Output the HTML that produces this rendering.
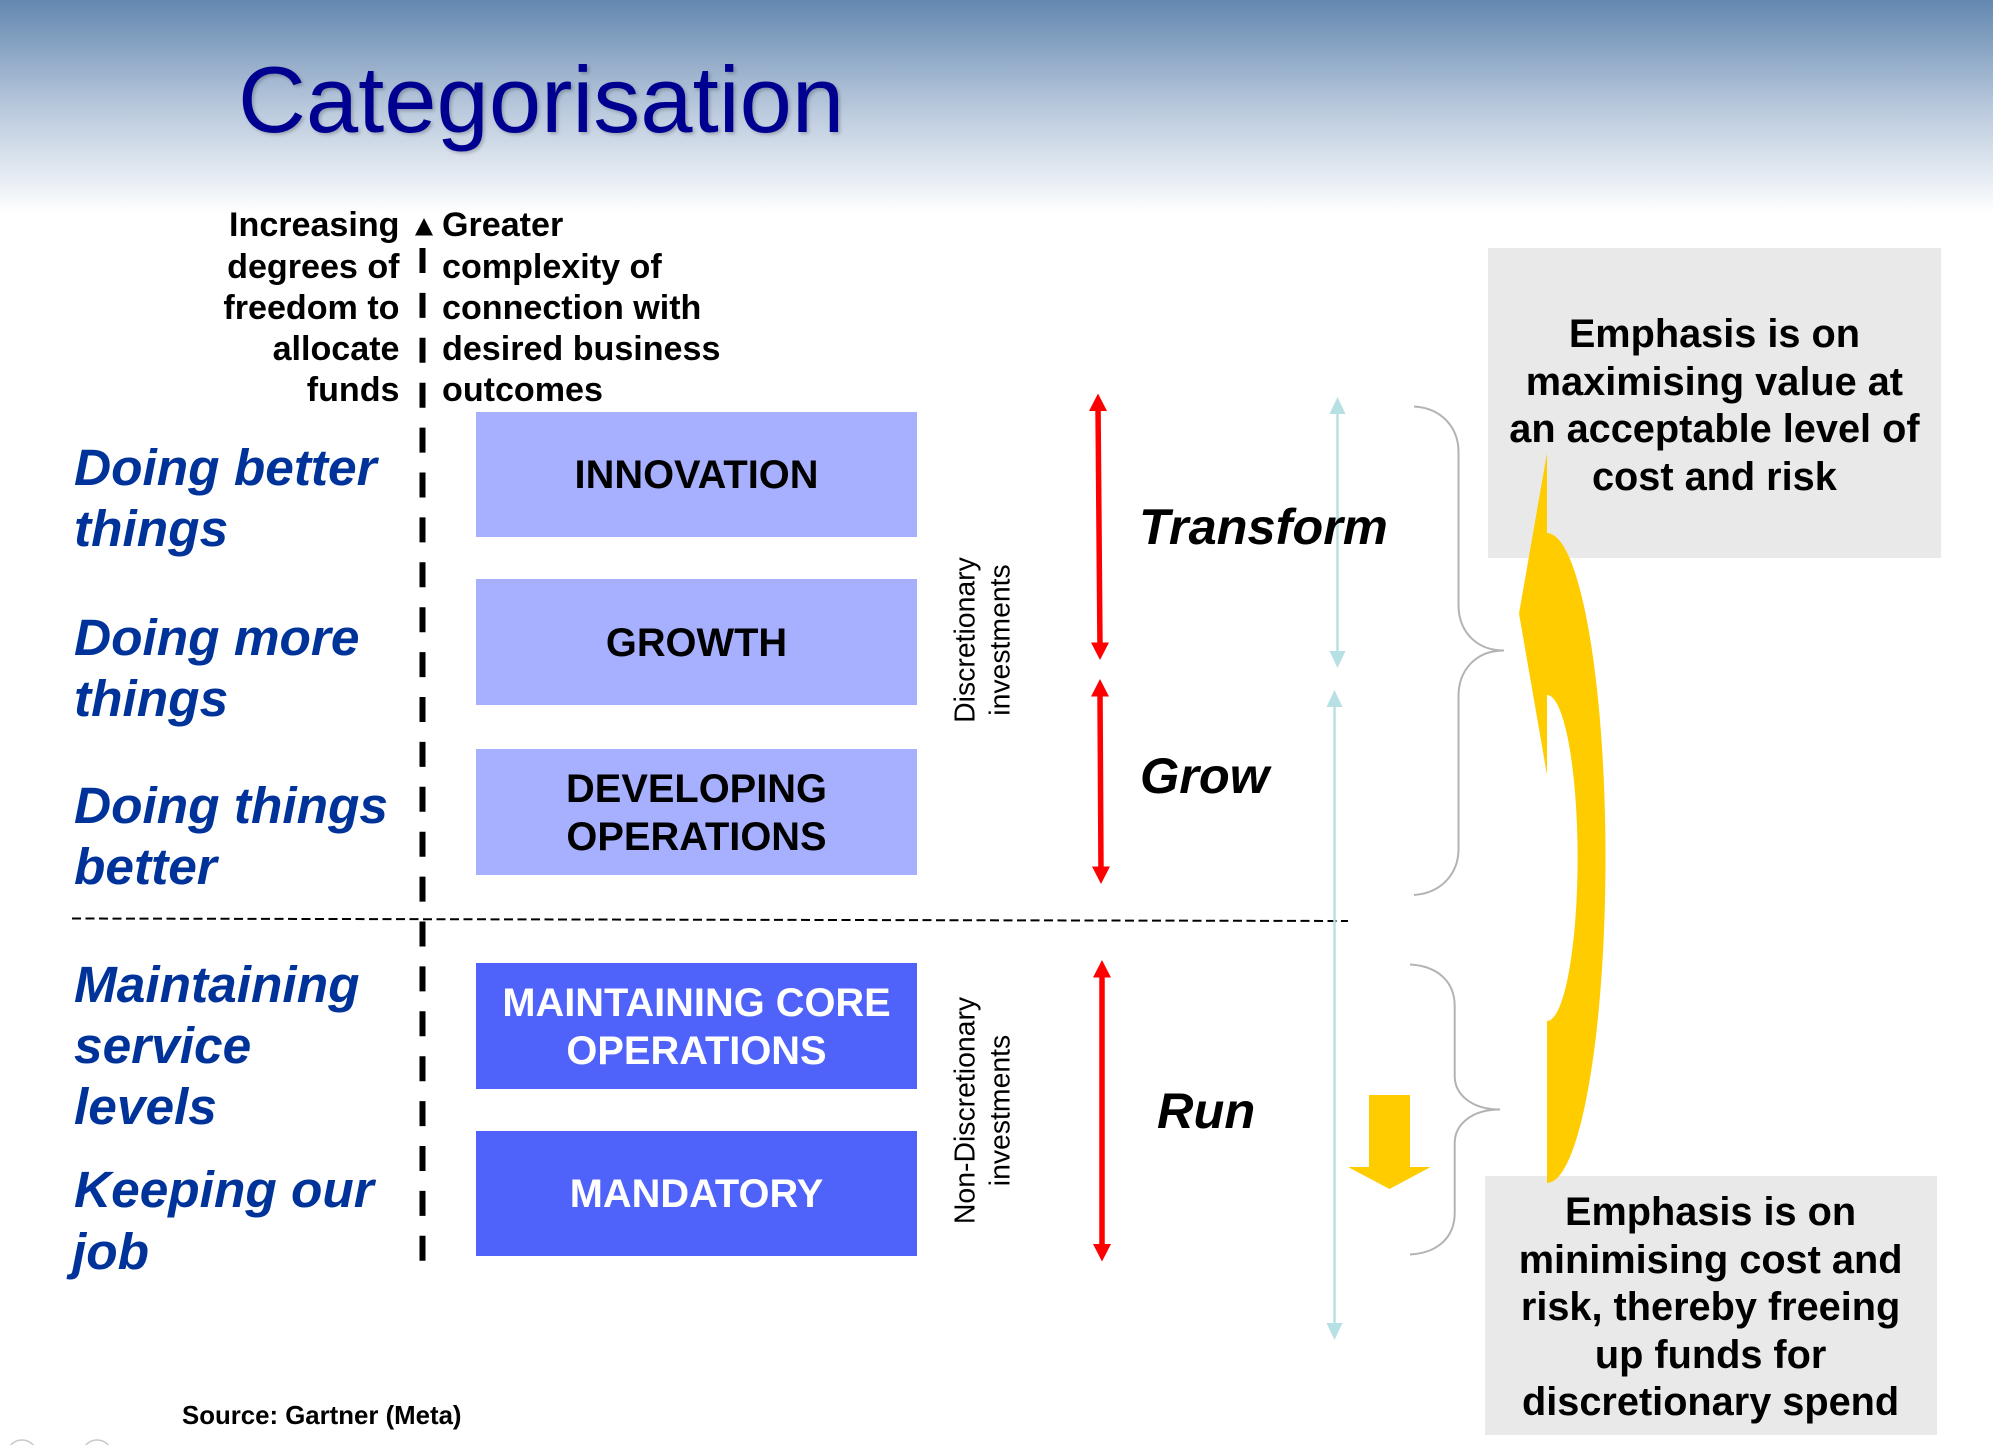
<!DOCTYPE html>
<html>
<head>
<meta charset="utf-8">
<style>
html,body{margin:0;padding:0;background:#fff;width:1993px;height:1445px;overflow:hidden}
svg{display:block}
text{font-family:"Liberation Sans",Arial,sans-serif}
.k{font-size:34.1px;font-weight:bold;fill:#000}
.b{font-size:51.4px;font-weight:bold;font-style:italic;fill:#003399}
.bx{font-size:39.8px;font-weight:bold;text-anchor:middle;fill:#000}
.w{fill:#fff}
.g{font-size:39.7px;font-weight:bold;text-anchor:middle;fill:#000}
.t{font-size:50.5px;font-weight:bold;font-style:italic;fill:#000}
.v{font-size:28.4px;text-anchor:middle;fill:#000}
</style>
</head>
<body>
<svg width="1993" height="1445" viewBox="0 0 1993 1445" xmlns="http://www.w3.org/2000/svg">
<defs>
<linearGradient id="bg" x1="0" y1="0" x2="0" y2="1">
<stop offset="0" stop-color="#6388b0"/>
<stop offset="0.5" stop-color="#b8c8dc"/>
<stop offset="1" stop-color="#ffffff"/>
</linearGradient>
<filter id="sh" x="-5%" y="-10%" width="110%" height="120%">
<feDropShadow dx="2" dy="2" stdDeviation="1.5" flood-color="#000" flood-opacity="0.22"/>
</filter>
</defs>
<rect width="1993" height="1445" fill="#fff"/>
<rect width="1993" height="215" fill="url(#bg)"/>
<text x="238" y="132" font-size="94" fill="#000090" filter="url(#sh)">Categorisation</text>

<!-- Gray boxes -->
<rect x="1488" y="248" width="453" height="310" fill="#e9e9e9"/>
<rect x="1485" y="1176" width="452" height="259" fill="#e9e9e9"/>

<!-- Axis -->
<line x1="422.5" y1="248" x2="422.5" y2="1262" stroke="#000" stroke-width="6" stroke-dasharray="25 19.9"/>
<polygon points="424,218 433,235.5 415,235.5" fill="#000"/>

<!-- Left/right text at axis -->
<text class="k" x="399.5" y="236" text-anchor="end">Increasing</text>
<text class="k" x="399.5" y="278" text-anchor="end">degrees of</text>
<text class="k" x="399.5" y="319" text-anchor="end">freedom to</text>
<text class="k" x="399.5" y="360" text-anchor="end">allocate</text>
<text class="k" x="399.5" y="401" text-anchor="end">funds</text>
<text class="k" x="442" y="236">Greater</text>
<text class="k" x="442" y="278">complexity of</text>
<text class="k" x="442" y="319">connection with</text>
<text class="k" x="442" y="360">desired business</text>
<text class="k" x="442" y="401">outcomes</text>

<!-- Blue italic -->
<text class="b" x="74" y="485">Doing better</text>
<text class="b" x="74" y="546">things</text>
<text class="b" x="74" y="655">Doing more</text>
<text class="b" x="74" y="716">things</text>
<text class="b" x="74" y="823">Doing things</text>
<text class="b" x="74" y="884">better</text>
<text class="b" x="74" y="1002">Maintaining</text>
<text class="b" x="74" y="1063">service</text>
<text class="b" x="74" y="1124">levels</text>
<text class="b" x="74" y="1207">Keeping our</text>
<text class="b" x="72" y="1269">job</text>

<!-- Boxes -->
<rect x="476" y="412" width="441" height="125" fill="#a6b0ff"/>
<rect x="476" y="579" width="441" height="126" fill="#a6b0ff"/>
<rect x="476" y="749" width="441" height="126" fill="#a6b0ff"/>
<rect x="476" y="963" width="441" height="126" fill="#4f63fb"/>
<rect x="476" y="1131" width="441" height="125" fill="#4f63fb"/>
<text class="bx" x="696.5" y="488">INNOVATION</text>
<text class="bx" x="696.5" y="656">GROWTH</text>
<text class="bx" x="696.5" y="802">DEVELOPING</text>
<text class="bx" x="696.5" y="850">OPERATIONS</text>
<text class="bx w" x="696.5" y="1016">MAINTAINING CORE</text>
<text class="bx w" x="696.5" y="1064">OPERATIONS</text>
<text class="bx w" x="696.5" y="1207">MANDATORY</text>

<!-- Dashed separator -->
<line x1="72" y1="918.5" x2="1348" y2="921" stroke="#000" stroke-width="2" stroke-dasharray="9 4.5"/>

<!-- Vertical labels -->
<text class="v" transform="translate(974.5,640) rotate(-90)">Discretionary</text>
<text class="v" transform="translate(1009.5,640) rotate(-90)">investments</text>
<text class="v" transform="translate(974.5,1110.5) rotate(-90)">Non-Discretionary</text>
<text class="v" transform="translate(1009.5,1110.5) rotate(-90)">investments</text>

<!-- Light blue arrows -->
<g stroke="#b7e0e4" stroke-width="2.5" fill="none">
<line x1="1337.5" y1="410" x2="1337.5" y2="655"/>
<line x1="1334.5" y1="703" x2="1334.5" y2="1325"/>
</g>
<g fill="#b7e0e4">
<polygon points="1337.5,397 1345.5,414 1329.5,414"/>
<polygon points="1337.5,668 1345.5,651 1329.5,651"/>
<polygon points="1334.5,690 1342.5,707 1326.5,707"/>
<polygon points="1334.5,1340 1342.5,1323 1326.5,1323"/>
</g>

<!-- Red arrows -->
<g stroke="#ff0000" stroke-width="5.5" fill="none">
<line x1="1098" y1="405" x2="1100" y2="648"/>
<line x1="1100" y1="692" x2="1101" y2="872"/>
<line x1="1102" y1="972" x2="1102" y2="1250"/>
</g>
<g fill="#ff0000">
<polygon points="1098,393.5 1107,411 1089,411"/>
<polygon points="1100,660 1109,642.5 1091,642.5"/>
<polygon points="1100,679 1109,696.5 1091,696.5"/>
<polygon points="1101,884 1110,866.5 1092,866.5"/>
<polygon points="1102,960 1111,977.5 1093,977.5"/>
<polygon points="1102,1261.5 1111,1244 1093,1244"/>
</g>

<!-- Run/Grow/Transform -->
<text class="t" x="1139" y="544">Transform</text>
<text class="t" x="1140" y="793">Grow</text>
<text class="t" x="1157" y="1128">Run</text>

<!-- Braces -->
<g fill="none" stroke="#b3b3b3" stroke-width="2">
<path d="M1414,406.5 C1442,408 1458.5,428 1458.5,452 L1458.5,605 C1458.5,630 1475,650.5 1504,650.5 C1475,650.5 1458.5,671 1458.5,696 L1458.5,849 C1458.5,873 1442,893 1414,895"/>
<path d="M1410,964.5 C1438,966 1454.7,982 1454.7,1006 L1454.7,1076 C1454.7,1094 1471,1109.5 1500,1109.5 C1471,1109.5 1454.7,1125 1454.7,1143 L1454.7,1213 C1454.7,1237 1438,1253 1410,1254.5"/>
</g>

<!-- Yellow curved arrow -->
<path fill="#ffcc00" d="M1547,453 L1547,533 A58.5,325 0 0 1 1547,1183 L1547,1021 A30.6,163 0 0 0 1547,695 L1547,775 L1519,613.5 Z"/>
<!-- Yellow down arrow -->
<polygon fill="#ffcc00" points="1369,1095 1410,1095 1410,1167 1430.6,1167 1389.5,1189 1348,1167 1369,1167"/>

<!-- Gray box text -->
<text class="g" x="1714.4" y="347">Emphasis is on</text>
<text class="g" x="1714.4" y="395">maximising value at</text>
<text class="g" x="1714.4" y="442">an acceptable level of</text>
<text class="g" x="1714.4" y="490">cost and risk</text>
<text class="g" x="1710.6" y="1225">Emphasis is on</text>
<text class="g" x="1710.6" y="1273">minimising cost and</text>
<text class="g" x="1710.6" y="1320">risk, thereby freeing</text>
<text class="g" x="1710.6" y="1368">up funds for</text>
<text class="g" x="1710.6" y="1415">discretionary spend</text>

<!-- Source -->
<text x="182" y="1424" font-size="25.8" font-weight="bold" fill="#000">Source: Gartner (Meta)</text>

<!-- Bottom circles -->
<circle cx="22" cy="1455" r="15" fill="none" stroke="#c8c8c8" stroke-width="1.5"/>
<circle cx="97" cy="1455" r="15" fill="none" stroke="#c8c8c8" stroke-width="1.5"/>
</svg>
</body>
</html>
